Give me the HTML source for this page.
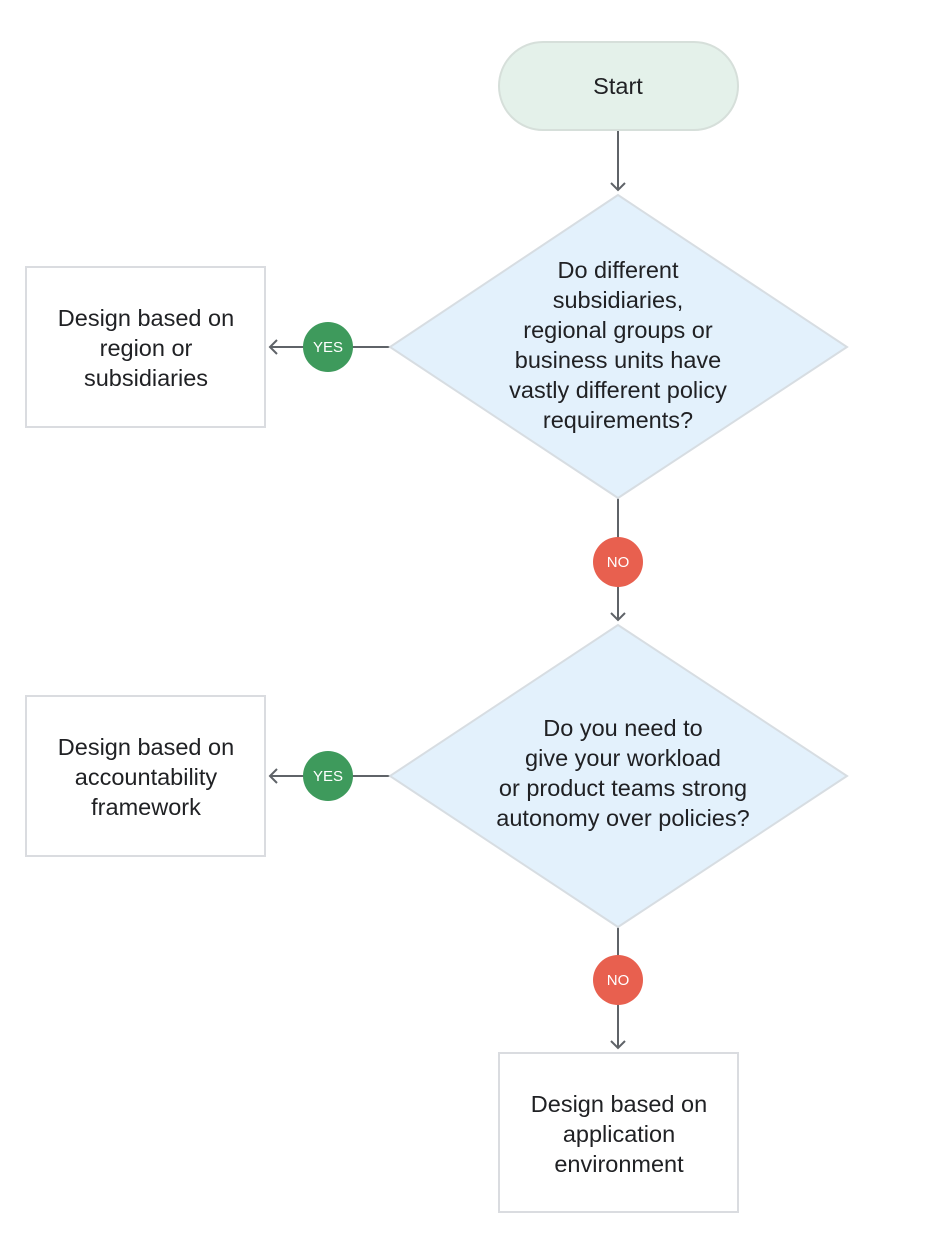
<!DOCTYPE html>
<html><head><meta charset="utf-8"><style>
html,body{margin:0;padding:0;background:#fff;}
svg{display:block;}
text{font-family:"Liberation Sans",Arial,sans-serif;fill:#202124;font-size:23.5px;text-anchor:middle;}
.b{fill:#fff;font-size:15px;}
</style></head><body>
<svg width="944" height="1244" viewBox="0 0 944 1244" xmlns="http://www.w3.org/2000/svg">
<g stroke="#5f6368" stroke-width="2" fill="none">
<line x1="618" y1="130" x2="618" y2="190"/>
<polyline points="611,183 618,190 625,183"/>
<line x1="390" y1="347" x2="270" y2="347"/>
<polyline points="277,340 270,347 277,354"/>
<line x1="618" y1="498" x2="618" y2="620"/>
<polyline points="611,613 618,620 625,613"/>
<line x1="390" y1="776" x2="270" y2="776"/>
<polyline points="277,769 270,776 277,783"/>
<line x1="618" y1="927" x2="618" y2="1048"/>
<polyline points="611,1041 618,1048 625,1041"/>
</g>
<rect x="499" y="42" width="239" height="88" rx="44" fill="#e4f1ea" stroke="#d6dfda" stroke-width="2"/>
<text x="618" y="94">Start</text>
<polygon points="618,195 847,347 618,498 390,347" fill="#e3f1fc" stroke="#d7dde2" stroke-width="2"/>
<text x="618" y="278">Do different</text>
<text x="618" y="308">subsidiaries,</text>
<text x="618" y="338">regional groups or</text>
<text x="618" y="368">business units have</text>
<text x="618" y="398">vastly different policy</text>
<text x="618" y="428">requirements?</text>
<rect x="26" y="267" width="239" height="160" fill="#fff" stroke="#dadce0" stroke-width="2"/>
<text x="146" y="326">Design based on</text>
<text x="146" y="356">region or</text>
<text x="146" y="386">subsidiaries</text>
<circle cx="328" cy="347" r="25" fill="#3e9a5c"/>
<text class="b" x="328" y="352">YES</text>
<circle cx="618" cy="562" r="25" fill="#e8604f"/>
<text class="b" x="618" y="567">NO</text>
<polygon points="618,625 847,776 618,927 390,776" fill="#e3f1fc" stroke="#d7dde2" stroke-width="2"/>
<text x="623" y="736">Do you need to</text>
<text x="623" y="766">give your workload</text>
<text x="623" y="796">or product teams strong</text>
<text x="623" y="826">autonomy over policies?</text>
<rect x="26" y="696" width="239" height="160" fill="#fff" stroke="#dadce0" stroke-width="2"/>
<text x="146" y="755">Design based on</text>
<text x="146" y="785">accountability</text>
<text x="146" y="815">framework</text>
<circle cx="328" cy="776" r="25" fill="#3e9a5c"/>
<text class="b" x="328" y="781">YES</text>
<circle cx="618" cy="980" r="25" fill="#e8604f"/>
<text class="b" x="618" y="985">NO</text>
<rect x="499" y="1053" width="239" height="159" fill="#fff" stroke="#dadce0" stroke-width="2"/>
<text x="619" y="1112">Design based on</text>
<text x="619" y="1142">application</text>
<text x="619" y="1172">environment</text>
</svg>
</body></html>
